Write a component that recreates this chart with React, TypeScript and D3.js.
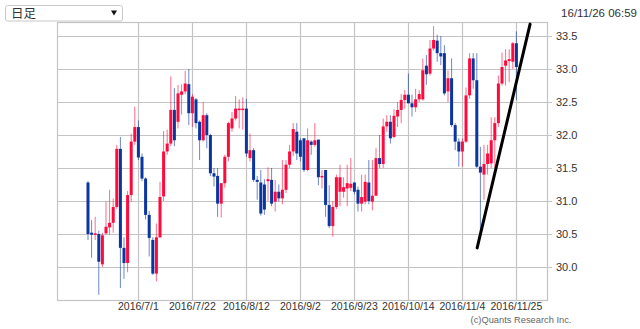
import React from "react";
import * as d3 from "d3";

// Candle data (index 0 = 2016/6/13, one per weekday)
const opens = [
  31.28, 30.52, 30.49, 30.5, 30.04, 30.51, 30.6, 30.67, 30.91, 31.79,
  30.29, 30.06, 31.09, 31.9, 32.12, 31.67, 31.34, 30.79, 30.41, 29.9,
  30.45, 31.07, 31.75, 31.87, 32.38, 32.2, 32.61, 32.66, 32.77, 32.33,
  32.54, 32.2, 31.92, 32.3, 32.0, 31.42, 31.38, 30.96, 31.27, 31.67,
  32.1, 32.25, 32.38, 32.38, 32.4, 31.65, 31.77, 31.32, 31.28, 31.25,
  31.3, 31.32, 30.99, 31.14, 31.04, 31.17, 31.55, 31.75, 32.05, 31.92,
  31.95, 31.47, 31.9, 31.85, 31.93, 31.36, 31.47, 30.94, 30.62, 30.91,
  31.14, 31.14, 31.19, 31.2, 31.28, 31.17, 30.96, 30.99, 31.28, 30.99,
  31.08, 31.65, 31.56, 32.13, 32.2, 31.97, 32.28, 32.38, 32.53, 32.61,
  32.48, 32.42, 32.54, 32.54, 33.05, 32.93, 33.31, 33.43, 33.24, 33.24,
  32.66, 32.86, 32.15, 31.9, 31.75, 31.9, 32.6, 33.16, 32.83, 31.52,
  31.4, 31.56, 31.57, 31.92, 32.18, 32.78, 33.05, 33.12, 33.11, 33.39,
];
const highs = [
  31.3, 30.71, 30.76, 30.55, 30.52, 30.99, 31.17, 31.04, 31.85, 31.97,
  30.45, 31.15, 32.02, 32.43, 32.22, 31.72, 31.36, 30.85, 30.45, 30.66,
  31.29, 32.06, 32.08, 32.89, 32.71, 32.76, 32.77, 32.97, 33.0, 32.62,
  32.56, 32.22, 32.5, 32.33, 32.02, 31.5, 31.5, 31.27, 31.7, 32.2,
  32.35, 32.59, 32.54, 32.57, 32.55, 32.02, 31.8, 31.38, 31.47, 31.33,
  31.51, 31.5, 31.32, 31.25, 31.62, 31.62, 31.85, 32.18, 32.18, 31.95,
  31.95, 32.1, 31.92, 32.18, 31.93, 31.47, 31.47, 31.24, 31.0, 31.4,
  31.55, 31.36, 31.55, 31.65, 31.28, 31.22, 31.4, 31.4, 31.62, 31.62,
  31.8, 32.0, 32.25, 32.3, 32.3, 32.39, 32.5, 32.62, 32.68, 32.93,
  32.61, 32.7, 32.68, 33.16, 33.21, 33.44, 33.65, 33.52, 33.5, 33.36,
  32.98, 33.16, 32.18, 31.95, 31.95, 32.72, 33.24, 33.24, 33.24, 31.82,
  31.85, 31.85, 32.27, 32.27, 32.9, 33.25, 33.3, 33.3, 33.41, 33.57,
];
const lows = [
  30.41, 30.14, 30.41, 29.58, 30.0, 30.49, 30.49, 30.52, 30.88, 29.68,
  29.82, 29.92, 30.99, 31.85, 31.62, 31.3, 30.72, 30.16, 29.88, 29.78,
  30.44, 31.0, 31.7, 31.83, 31.83, 32.1, 32.31, 32.62, 32.15, 32.12,
  32.1, 31.62, 31.9, 31.8, 31.38, 31.22, 30.76, 30.75, 31.2, 31.6,
  32.05, 32.22, 32.1, 32.08, 31.67, 31.6, 31.29, 31.02, 30.78, 30.79,
  31.0, 30.92, 30.84, 30.99, 30.95, 31.12, 31.5, 31.68, 31.62, 31.6,
  31.44, 31.45, 31.7, 31.82, 31.24, 31.19, 30.76, 30.59, 30.46, 30.88,
  30.92, 31.05, 30.92, 31.15, 31.1, 30.84, 30.84, 30.95, 30.95, 30.86,
  31.08, 31.5, 31.5, 32.05, 31.87, 31.95, 32.12, 32.18, 32.4, 32.48,
  32.28, 32.35, 32.5, 32.52, 32.76, 32.9, 33.28, 33.11, 33.06, 32.6,
  32.5, 32.12, 31.77, 31.52, 31.52, 31.88, 32.55, 32.7, 31.5, 30.53,
  31.02, 31.4, 31.5, 31.5, 32.12, 32.75, 32.75, 32.8, 33.0, 32.53,
];
const closes = [
  30.5, 30.49, 30.51, 30.08, 30.48, 30.61, 30.67, 30.91, 31.79, 30.29,
  30.06, 31.09, 31.9, 32.12, 31.66, 31.34, 30.79, 30.44, 29.9, 30.45,
  31.06, 31.75, 31.87, 32.38, 31.92, 32.63, 32.66, 32.78, 32.33, 32.58,
  32.18, 31.92, 32.3, 32.0, 31.42, 31.37, 30.96, 31.27, 31.67, 32.18,
  32.25, 32.4, 32.4, 32.4, 31.72, 31.77, 31.32, 31.29, 30.81, 30.87,
  31.33, 30.96, 31.14, 31.04, 31.17, 31.55, 31.75, 32.09, 31.72, 31.67,
  31.47, 31.92, 31.85, 31.92, 31.36, 31.38, 30.94, 30.62, 30.91, 31.36,
  31.36, 31.21, 31.27, 31.26, 31.14, 30.96, 31.06, 31.29, 31.0, 31.08,
  31.65, 31.56, 32.13, 32.2, 31.95, 32.29, 32.38, 32.53, 32.61, 32.48,
  32.42, 32.54, 32.62, 32.98, 32.92, 33.31, 33.44, 33.24, 33.19, 32.63,
  32.86, 32.15, 31.9, 31.75, 31.9, 32.6, 33.16, 32.83, 31.52, 31.43,
  31.56, 31.72, 31.92, 32.18, 32.78, 33.03, 33.13, 33.15, 33.39, 33.03,
];

const xTickIndex = [14, 29, 44, 59, 74, 89, 104, 119];
const xTickLabels = [
  "2016/7/1", "2016/7/22", "2016/8/12", "2016/9/2",
  "2016/9/23", "2016/10/14", "2016/11/4", "2016/11/25",
];
const yTicks = [30.0, 30.5, 31.0, 31.5, 32.0, 32.5, 33.0, 33.5];

// Hand-drawn trend line (candle index, price)
const trendIndex = [108.1, 122.8];
const trendPrice = [30.29, 33.68];

const W = 640;
const H = 329;
const left = 57;
const right = 547;
const top = 22;
const bottom = 300;

const UP = "#ff0a3c";
const DOWN = "#0b35a0";
const GRID = "#c4c4c4";

export default function App() {
  const x = d3.scaleLinear().domain([-8.61, 127.5]).range([left, right]);
  const y = d3.scaleLinear().domain([29.5, 33.712]).range([bottom, top]);
  const font = "'Liberation Sans', Arial, sans-serif";
  const line = d3
    .line<number>()
    .x((_, i) => x(trendIndex[i]))
    .y((d) => y(d));

  return (
    <svg
      width={W}
      height={H}
      style={{ position: "absolute", left: 0, top: 0, background: "#fff" }}
      fontFamily={font}
    >
      {/* dropdown */}
      <rect x={5.5} y={5.5} width={117} height={15.5} rx={2} fill="#fff" stroke="#c8c8c8" />
      <text x={11} y={18} fontSize={12.5} fill="#333" fontFamily="'Noto Sans CJK JP', sans-serif">
        日足
      </text>
      <path d="M111,10.5 L117,10.5 L114,15.5 Z" fill="#111" />
      <text x={637} y={17} fontSize={11.5} fill="#333" textAnchor="end">
        16/11/26 06:59
      </text>

      {/* grid */}
      <g stroke={GRID} strokeWidth={1.2} fill="none">
        {yTicks.map((t) => (
          <line key={"h" + t} x1={left} x2={right + 5} y1={Math.round(y(t)) + 0.5} y2={Math.round(y(t)) + 0.5} />
        ))}
        {xTickIndex.map((t) => (
          <line key={"v" + t} x1={Math.round(x(t)) + 0.5} x2={Math.round(x(t)) + 0.5} y1={top} y2={bottom} />
        ))}
        <rect x={left + 0.5} y={top + 0.5} width={right - left} height={bottom - top} />
      </g>

      {/* candles */}
      {opens.map((o, i) => {
        const c = closes[i];
        const col = c >= o ? UP : DOWN;
        const cx = x(i);
        const y0 = y(Math.max(o, c));
        const y1 = y(Math.min(o, c));
        return (
          <g key={i}>
            <line x1={cx} x2={cx} y1={y(highs[i])} y2={y(lows[i])} stroke={col} strokeOpacity={0.6} strokeWidth={1} />
            <rect x={cx - 1.5} y={y0} width={3} height={Math.max(1.5, y1 - y0)} fill={col} />
          </g>
        );
      })}

      <path d={line(trendPrice) || ""} stroke="#000" strokeWidth={3} fill="none" strokeLinecap="round" />

      {/* y labels */}
      {yTicks.map((t) => (
        <text key={"yl" + t} x={556} y={y(t) + 4} fontSize={11} fill="#333">
          {t.toFixed(1)}
        </text>
      ))}
      {/* x labels */}
      {xTickIndex.map((t, i) => (
        <text key={"xl" + t} x={x(t)} y={310} fontSize={10.5} fill="#333" textAnchor="middle">
          {xTickLabels[i]}
        </text>
      ))}
      <text x={521} y={323} fontSize={9.3} fill="#666" textAnchor="middle">
        (c)Quants Research Inc.
      </text>
    </svg>
  );
}
